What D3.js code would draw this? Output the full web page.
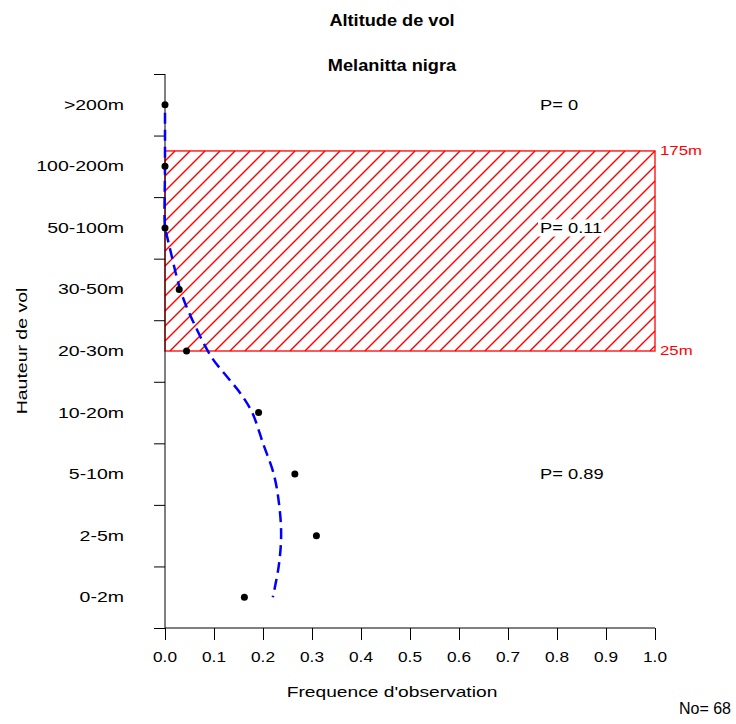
<!DOCTYPE html>
<html>
<head>
<meta charset="utf-8">
<script src="https://cdn.jsdelivr.net/npm/d3@7"></script>
<style>
  body { margin: 0; background: #fff; }
  text { font-family: "Liberation Sans", Arial, sans-serif; fill: #000; }
</style>
</head>
<body>
<svg id="chart" width="736" height="724"></svg>
<script>
// classes de hauteur, du bas vers le haut
const classes = ['0-2m', '2-5m', '5-10m', '10-20m', '20-30m', '30-50m', '50-100m', '100-200m', '>200m']
// frequence observee par classe (No = 68)
const frequences = [0.162, 0.309, 0.265, 0.191, 0.044, 0.029, 0, 0, 0]
// courbe lissee (position en classe, frequence)
const courbeClasse = [7.87, 7.0, 6.0, 5.9, 5.6, 5.2, 4.9, 4.4, 3.9, 3.55, 3.3, 3.0, 2.5, 2.0, 1.5, 1.0, 0.5, 0]
const courbeFreq = [0.0, 0.0, 0.0, 0.003, 0.012, 0.024, 0.035, 0.062, 0.095, 0.13, 0.155, 0.178, 0.2, 0.222, 0.233, 0.237, 0.232, 0.22]
// zone a risque 25m - 175m (en position de classe)
const zoneBas = 4, zoneHaut = 7.25
const zoneLabels = ['25m', '175m']
// proportions
const probaTextes = ['P= 0', 'P= 0.11', 'P= 0.89']
const probaPos = [8, 6, 2]
const xTicks = [0, 0.1, 0.2, 0.3, 0.4, 0.5, 0.6, 0.7, 0.8, 0.9, 1.0]
const nObs = 68

const svg = d3.select('#chart')
const ROUGE = '#ff0000'
const BLEU = '#0000ff'

const x = d3.scaleLinear().domain([0, 1]).range([165, 655])
const y = d3.scaleLinear().domain([-0.5, 8.5]).range([628, 74])

// texte un peu elargi comme dans le graphique d'origine
function texte(parent, str, px, py, taille, sx, ancre, rot) {
    return parent.append('text').text(str)
        .attr('transform', 'translate(' + px + ',' + py + ')' + (rot ? ' rotate(' + rot + ')' : '') + ' scale(' + sx + ',1)')
        .attr('text-anchor', ancre || 'start').style('font-size', taille + 'px')
}

// Titres
texte(svg, 'Altitude de vol', 392, 26, 17, 1.07, 'middle').style('font-weight', 'bold')
texte(svg, 'Melanitta nigra', 392, 71, 17, 1.07, 'middle').style('font-weight', 'bold')

// Zone hachuree : segments a 45 degres coupes au rectangle
const zx0 = x(0), zx1 = x(1), zTop = y(zoneHaut), zBot = y(zoneBas)
const hZone = zBot - zTop
const hachures = d3.range(zx0 + 10, zx1 + hZone, 15).map(d => {
    const t0 = Math.max(0, d - zx1), t1 = Math.min(hZone, d - zx0)
    return { x1: d - t0, y1: zTop + t0, x2: d - t1, y2: zTop + t1 }
}).filter(s => s.y2 > s.y1)
svg.append('g').selectAll('line').data(hachures).join('line')
    .attr('x1', d => d.x1).attr('y1', d => d.y1).attr('x2', d => d.x2).attr('y2', d => d.y2)
    .style('stroke', ROUGE).style('stroke-width', 1.4)
svg.append('rect').attr('x', zx0).attr('y', zTop).attr('width', zx1 - zx0).attr('height', hZone)
    .attr('fill', 'none').style('stroke', ROUGE).style('stroke-width', 1.3)

;[zoneBas, zoneHaut].forEach((d, i) => {
    texte(svg, zoneLabels[i], x(1) + 5, y(d) + 4, 12, 1.4).style('fill', ROUGE)
})

// Axes
const axeX = svg.append('g').attr('transform', 'translate(0,' + y(-0.5) + ')')
    .call(d3.axisBottom(x).tickValues(xTicks).tickFormat('').tickSize(12))
axeX.selectAll('line, path').style('stroke', '#000')
axeX.select('.domain').attr('d', 'M' + x(0) + ',0H' + x(1))
xTicks.forEach(t => texte(svg, d3.format('.1f')(t), x(t), 662, 15, 1.15, 'middle'))

const axeY = svg.append('g').attr('transform', 'translate(' + x(0) + ',0)')
    .call(d3.axisLeft(y).tickValues(d3.range(-0.5, 9, 1)).tickFormat('').tickSize(11))
axeY.selectAll('line, path').style('stroke', '#000')
axeY.select('.domain').attr('d', 'M0,' + y(8.5) + 'V' + y(-0.5))

classes.forEach((c, i) => texte(svg, c, 124, y(i) + 5, 15, 1.3, 'end'))

texte(svg, "Frequence d'observation", 392, 697, 15, 1.28, 'middle')
texte(svg, 'Hauteur de vol', 27, 351, 15, 1.3, 'middle', -90)

// Courbe lissee
const ligne = d3.line().x(d => x(d[1])).y(d => y(d[0])).curve(d3.curveCatmullRom)
svg.append('path').datum(courbeClasse.map((c, i) => [c, courbeFreq[i]])).attr('d', ligne)
    .attr('fill', 'none').style('stroke', BLEU).style('stroke-width', 2.5).style('stroke-dasharray', '11,6')

// Points
svg.selectAll('.point').data(frequences).join('circle').attr('class', 'point')
    .attr('cx', d => x(d)).attr('cy', (d, i) => y(i)).attr('r', 3.5).attr('fill', '#000')

// Proportions
probaTextes.forEach((p, i) => {
    const t = texte(svg, p, 540, y(probaPos[i]) + 5, 15, 1.22)
    const b = t.node().getBoundingClientRect()
    svg.insert('rect', () => t.node()).attr('x', b.x - 2).attr('y', b.y).attr('width', b.width + 4).attr('height', b.height).attr('fill', '#fff')
})

texte(svg, 'No= ' + nObs, 731, 714, 16, 1.0, 'end')
</script>
</body>
</html>
